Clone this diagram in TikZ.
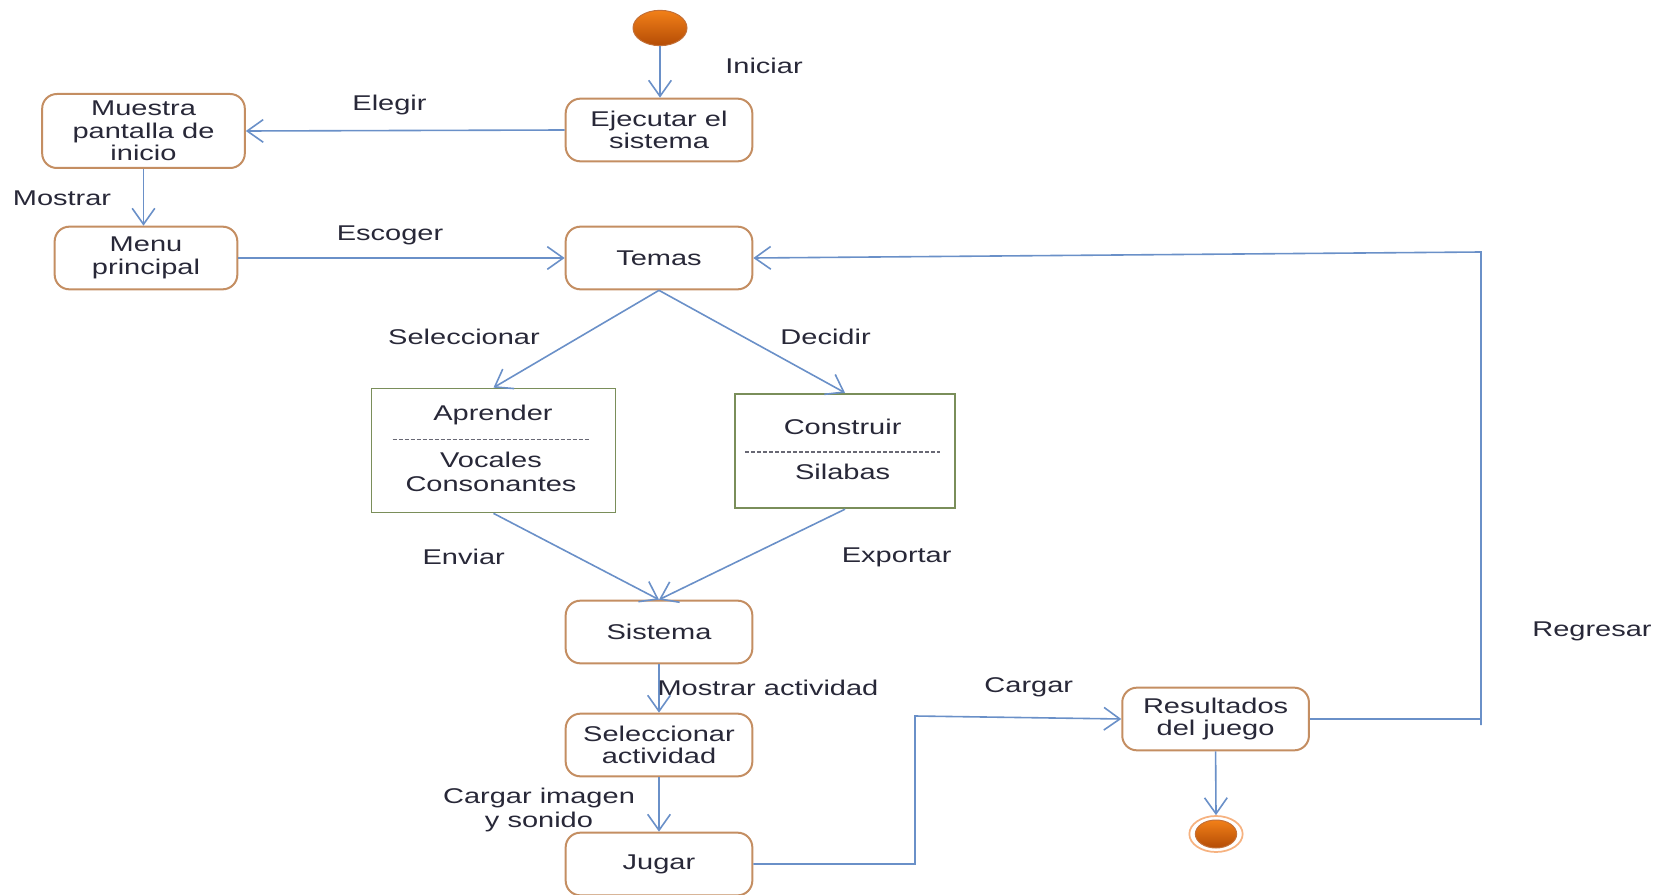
\documentclass[tikz,border=0pt]{standalone}
\usepackage{fontspec}
\setmainfont[FakeStretch=1.36]{Liberation Sans}
\usetikzlibrary{arrows.meta,shapes.geometric}

\definecolor{flecha}{RGB}{106,144,200}
\definecolor{borde}{RGB}{196,142,98}
\definecolor{verde}{RGB}{122,142,90}
\definecolor{texto}{RGB}{40,40,56}
\definecolor{naranja}{RGB}{242,128,24}
\definecolor{naranjaosc}{RGB}{180,76,6}
\definecolor{anillo}{RGB}{246,178,128}

\tikzset{every picture/.style={line width=0.75pt}}
\tikzset{
  estado/.style={draw=borde, line width=1.5pt, rounded corners=11pt, fill=white, align=center, text=texto,
    minimum width=140pt, minimum height=47pt, inner sep=2pt, font=\fontsize{16}{17}\selectfont},
  actividad/.style={draw=verde, line width=1.3pt, fill=white},
  etiqueta/.style={text=texto, inner sep=0pt, align=center, font=\fontsize{16}{17.5}\selectfont},
  separador/.style={draw=texto!70, line width=0.8pt, dash pattern={on 3pt off 1.5pt}},
  flujo/.style={draw=flecha, line width=1.2pt, -{Straight Barb[length=12pt,width=17pt]}},
  linea/.style={draw=flecha, line width=1.2pt},
  inicial/.style={ellipse, inner sep=0pt, minimum width=40.5pt, minimum height=26.5pt, draw=naranjaosc!80,
    top color=naranja, bottom color=naranjaosc},
  final/.style={ellipse, inner sep=0pt, minimum width=40pt, minimum height=27pt, draw=anillo, line width=1.3pt, fill=white},
  finalin/.style={ellipse, inner sep=0pt, minimum width=31pt, minimum height=21pt, draw=naranjaosc!80,
    top color=naranja, bottom color=naranjaosc}
}

\begin{document}
\begin{tikzpicture}[x=0.75pt,y=0.75pt,yscale=-1,xscale=1]
\useasboundingbox (0,0) rectangle (1664,895);
\clip (0,0) rectangle (1664,895);

%Shape: Ellipse [inicio]
\node[inicial] (ini) at (660,28) {};

%Shape: Rounded Rect [estados]
\node[estado] (ejec) at (659,130) {Ejecutar el\\sistema};
\node[estado, minimum width=152pt, minimum height=55.5pt] (pant) at (143.5,131) {Muestra\\pantalla de\\inicio};
\node[estado, minimum width=137pt] (menu) at (146,258) {Menu\\principal};
\node[estado] (temas) at (659,258) {Temas};
\node[estado] (sist) at (659,632) {Sistema};
\node[estado] (selact) at (659,745) {Seleccionar\\actividad};
\node[estado] (jugar) at (659,864) {Jugar};
\node[estado] (res) at (1215.6,719) {Resultados\\del juego};

%Shape: Rectangle [Aprender]
\node[actividad, minimum width=183pt, minimum height=93pt] (apr) at (493.5,450.5) {};
\node[etiqueta] (aprTit) at (493,415) {Aprender};
\draw[separador] (392.6,439.3) -- (589,439.3) ;
\node[etiqueta] (aprSub) at (491,472) {Vocales\\Consonantes};

%Shape: Rectangle [Construir]
\node[actividad, minimum width=165pt, minimum height=86pt] (cons) at (845,451) {};
\node[etiqueta] (consTit) at (842.6,426.6) {Construir};
\draw[separador] (745,452) -- (940,452) ;
\node[etiqueta] (consSub) at (842.6,472) {Silabas};

%Shape: Ellipse [fin]
\node[final] (fin) at (1216,834) {};
\node[finalin] (finin) at (fin) {};

%Codos
\coordinate (r1) at (1481,252);
\coordinate (r2) at (1481,725);
\coordinate (j1) at (915,866);
\coordinate (j2) at (915,716);

%Straight Lines
\draw[flujo] (ini.south) -- (ini.south |- ejec.north) ;
\draw[flujo] (ejec.west) -- (pant.east) ;
\draw[flujo] (pant.south) -- (pant.south |- menu.north) ;
\draw[flujo] (menu) -- (temas) ;
\draw[flujo] (temas.south) -- (apr.north) ;
\draw[flujo] (temas.south) -- (cons.north) ;
\draw[flujo] (apr.south) -- (sist.north) ;
\draw[flujo] (cons.south) -- (sist.north) ;
\draw[flujo] (sist) -- (selact) ;
\draw[flujo] (selact) -- (jugar) ;
\draw[flujo] (jugar.east) -- (jugar.east -| j1) -- (j2) -- (res.west) ;
\draw[linea] (res.east) -- (res.east -| r1) ;
\draw[flujo] (r2) -- (r1) -- (temas.east) ;
\draw[flujo] (res.south) -- (fin.north) ;

%Labels
\node[etiqueta] (lIni) at (764,66) {Iniciar};
\node[etiqueta] (lEle) at (389.5,105) {Elegir};
\node[etiqueta] (lMos) at (62,198.4) {Mostrar};
\node[etiqueta] (lEsc) at (390,235.6) {Escoger};
\node[etiqueta] (lSel) at (464,336.4) {Seleccionar};
\node[etiqueta] (lDec) at (825.6,336.4) {Decidir};
\node[etiqueta] (lEnv) at (463.7,557) {Enviar};
\node[etiqueta] (lExp) at (896.7,557) {Exportar};
\node[etiqueta] (lReg) at (1592,631) {Regresar};
\node[etiqueta, anchor=west] (lAct) at (657,688) {Mostrar actividad};
\node[etiqueta] (lCar) at (1028.8,687.7) {Cargar};
\node[etiqueta, font=\fontsize{16}{17.5}\selectfont] (lImg) at (539,810) {Cargar imagen\\y sonido};

\end{tikzpicture}
\end{document}
